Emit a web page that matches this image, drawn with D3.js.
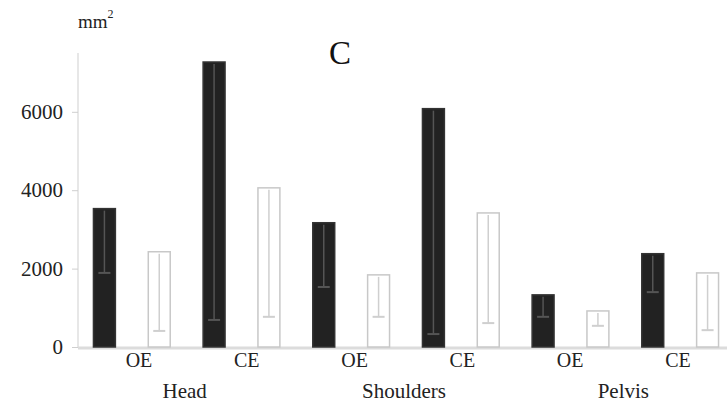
<!DOCTYPE html>
<html><head><meta charset="utf-8">
<script src="https://cdn.jsdelivr.net/npm/d3@7"></script>
<style>body{margin:0;background:#fff}svg{display:block}text{font-family:"Liberation Serif","Times New Roman",serif}</style>
</head><body><svg id="c" width="727" height="406"></svg>
<script>
const regions = ["Head", "Shoulders", "Pelvis"];
const conditions = ["OE", "CE"];
const series = ["dark", "light"];
// means (mm²) in order Head OE, Head CE, Shoulders OE, Shoulders CE, Pelvis OE, Pelvis CE
const darkMeans = [3530, 7270, 3170, 6080, 1330, 2380];
const darkSD = [1640, 6580, 1640, 5750, 560, 980];
const lightMeans = [2430, 4060, 1840, 3420, 920, 1890];
const lightSD = [2020, 3290, 1070, 2810, 380, 1460];
const yTicks = [0, 2000, 4000, 6000];
const title = "C";
const unit = "mm";

const svg = d3.select("#c");
const keys = [];
regions.forEach(r => conditions.forEach(c => keys.push(r + "|" + c)));

const y = d3.scaleLinear().domain([0, 7500]).range([347, 53]);
const x0 = d3.scaleBand().domain(keys).range([77, 735]);
const x1 = d3.scaleBand().domain(series).range([0, x0.bandwidth()]).paddingInner(0.6).paddingOuter(0.3);
const xl = d3.scalePoint().domain(keys).range([139, 678]);

// y axis
const ya = svg.append("g").attr("transform", "translate(78,0)")
  .call(d3.axisLeft(y).tickValues(yTicks).tickSize(6).tickPadding(9).tickFormat(d3.format("d")));
ya.select(".domain").attr("stroke", "#cfcfcf").attr("d", "M0," + y(0) + "V" + y(7500));
ya.selectAll(".tick line").attr("stroke", "#cfcfcf");
ya.selectAll(".tick text").attr("font-family", "Liberation Serif").attr("font-size", 21).attr("fill", "#222");

// baseline
svg.append("line").attr("x1", 78).attr("x2", 727).attr("y1", y(0) + 1).attr("y2", y(0) + 1)
  .attr("stroke", "#dcdcdc").attr("stroke-width", 3);

const data = [];
keys.forEach((k, i) => {
  data.push({k, s: "dark", m: darkMeans[i], sd: darkSD[i]});
  data.push({k, s: "light", m: lightMeans[i], sd: lightSD[i]});
});

const g = svg.append("g");
const bw = x1.bandwidth();
data.forEach(d => {
  const bx = x0(d.k) + x1(d.s);
  const dark = d.s === "dark";
  g.append("rect").attr("x", bx).attr("y", y(d.m)).attr("width", bw).attr("height", y(0) - y(d.m))
    .attr("fill", dark ? "#222" : "#fff").attr("stroke", dark ? "#333" : "#c8c8c8").attr("stroke-width", 1.5);
  const cx = bx + bw / 2;
  const lc = dark ? "#555" : "#cfcfcf";
  g.append("line").attr("x1", cx).attr("x2", cx).attr("y1", y(d.m) + 2).attr("y2", y(d.m - d.sd))
    .attr("stroke", lc).attr("stroke-width", 1.5);
  g.append("line").attr("x1", cx - 6).attr("x2", cx + 6).attr("y1", y(d.m - d.sd)).attr("y2", y(d.m - d.sd))
    .attr("stroke", lc).attr("stroke-width", 2);
});

// x labels
keys.forEach(k => {
  svg.append("text").attr("x", xl(k)).attr("y", 367).attr("text-anchor", "middle")
    .attr("font-size", 20).attr("fill", "#222").text(k.split("|")[1]);
});
regions.forEach(r => {
  const a = x0(r + "|" + conditions[0]), b = x0(r + "|" + conditions[1]) + x0.bandwidth();
  svg.append("text").attr("x", (a + b) / 2 - 2).attr("y", 398).attr("text-anchor", "middle")
    .attr("font-size", 21).attr("fill", "#222").text(r);
});

// title & unit
svg.append("text").attr("x", 340).attr("y", 64).attr("text-anchor", "middle").attr("font-size", 33).attr("fill", "#111").text(title);
const u = svg.append("text").attr("x", 78).attr("y", 28).attr("font-size", 19).attr("fill", "#222");
u.append("tspan").text(unit);
u.append("tspan").attr("font-size", 12).attr("dy", -10).text("2");
</script></body></html>
